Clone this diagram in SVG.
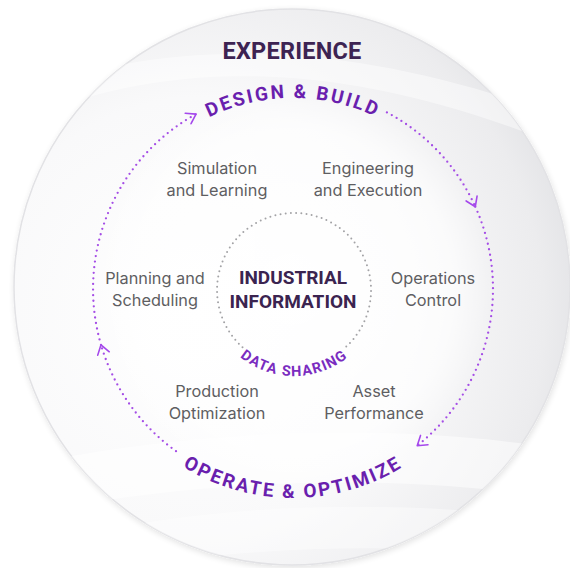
<svg xmlns="http://www.w3.org/2000/svg" width="570" height="568" viewBox="0 0 570 568">
<defs>
<radialGradient id="outerFill" cx="0.33" cy="0.55" r="0.78">
<stop offset="0" stop-color="#ffffff"/>
<stop offset="0.5" stop-color="#f9f9fa"/>
<stop offset="0.8" stop-color="#ececee"/>
<stop offset="1" stop-color="#d9dade"/>
</radialGradient>
<radialGradient id="innerGlow" cx="0.5" cy="0.5" r="0.5">
<stop offset="0" stop-color="#ffffff" stop-opacity="0.9"/>
<stop offset="0.8" stop-color="#ffffff" stop-opacity="0.6"/>
<stop offset="1" stop-color="#ffffff" stop-opacity="0"/>
</radialGradient>
<clipPath id="outerClip"><circle cx="292" cy="287" r="278"/></clipPath>
<filter id="shadow" x="-10%" y="-10%" width="120%" height="120%">
<feGaussianBlur in="SourceAlpha" stdDeviation="3"/>
<feOffset dx="1" dy="2" result="b"/>
<feComponentTransfer><feFuncA type="linear" slope="0.12"/></feComponentTransfer>
<feMerge><feMergeNode/><feMergeNode in="SourceGraphic"/></feMerge>
</filter>
<marker id="chev" viewBox="-12 -8 14 16" markerWidth="14" markerHeight="16" refX="0" refY="0" orient="auto" markerUnits="userSpaceOnUse">
<path d="M -9 -6 L 0 0 L -9 6" fill="none" stroke="#a548ec" stroke-width="1.6" stroke-linecap="round" stroke-linejoin="round"/>
</marker>
<path id="arcTop" d="M 102 289 A 191 191 0 0 1 484 289"/>
<path id="arcBottom" d="M 84 289 A 209 209 0 0 0 502 289"/>
<path id="arcInner" d="M 208 290 A 86 86 0 0 0 380 290"/>
</defs>
<style>
.lbl{font-family:Inter,Roboto,"Liberation Sans",Arial,sans-serif;font-size:16.3px;fill:#5e5e62;text-anchor:middle}
.core{font-family:Roboto,"Liberation Sans",Arial,sans-serif;font-size:19px;font-weight:bold;fill:#3b2450;text-anchor:middle}
.arcTxt{font-family:Roboto,"Liberation Sans",Arial,sans-serif;font-size:19px;font-weight:bold;fill:#6a1fae;letter-spacing:2.3px}
.dataTxt{font-family:Roboto,"Liberation Sans",Arial,sans-serif;font-size:14.5px;font-weight:bold;fill:#7a2cc0;letter-spacing:1.2px}
.dots{fill:none;stroke:#a54ee6;stroke-width:2.3;stroke-linecap:round;stroke-dasharray:0 5.6}
.gdots{fill:none;stroke:#a3a3a6;stroke-width:2;stroke-linecap:round;stroke-dasharray:0 5.2}
</style>
<rect width="570" height="568" fill="#ffffff"/>
<g id="experience-disc">
<circle cx="292" cy="287" r="278" fill="url(#outerFill)" stroke="#e2e2e5" stroke-width="1.5" filter="url(#shadow)"/>
<g clip-path="url(#outerClip)">
<path d="M 0 130 C 150 60 330 50 570 150 L 570 120 C 330 30 150 40 0 100 Z" fill="#ffffff" opacity="0.45"/>
<path d="M 0 470 C 180 430 380 420 570 450 L 570 500 C 380 470 180 480 0 520 Z" fill="#ffffff" opacity="0.5"/>
<path d="M 60 540 C 220 500 400 500 570 520 L 570 560 C 400 540 220 545 60 580 Z" fill="#ffffff" opacity="0.4"/>
</g>
<circle cx="293" cy="289" r="200" fill="url(#innerGlow)"/>
<text x="292" y="59" font-family="Roboto,'Liberation Sans',Arial,sans-serif" font-size="23.5" font-weight="bold" fill="#3d2352" text-anchor="middle" letter-spacing="0.2">EXPERIENCE</text>
</g>
<g id="connectors">
<path class="dots" d="M 386.9 112.4 A 200 200 0 0 1 475.3 206.7" marker-end="url(#chev)"/>
<path class="dots" d="M 475.3 206.7 A 200 200 0 0 1 417.2 445.7" marker-end="url(#chev)"/>
<path class="dots" d="M 176 451.2 A 200 200 0 0 1 101 344.8" marker-end="url(#chev)"/>
<path class="dots" d="M 101 344.8 A 200 200 0 0 1 196 114.1" marker-end="url(#chev)"/>
<path class="gdots" d="M 242.5 347.2 A 77 77 0 1 1 343.5 349"/>
</g>
<g id="design-build">
<text class="arcTxt"><textPath href="#arcTop" startOffset="50%" text-anchor="middle">DESIGN &amp; BUILD</textPath></text>
</g>
<g id="operate-optimize">
<text class="arcTxt"><textPath href="#arcBottom" startOffset="50%" text-anchor="middle">OPERATE &amp; OPTIMIZE</textPath></text>
</g>
<g id="industrial-information">
<text class="core" x="293" y="284">INDUSTRIAL</text>
<text class="core" x="293" y="308">INFORMATION</text>
</g>
<g id="data-sharing">
<text class="dataTxt"><textPath href="#arcInner" startOffset="50%" text-anchor="middle">DATA SHARING</textPath></text>
</g>
<g id="simulation-learning">
<text class="lbl" x="217" y="174">Simulation</text>
<text class="lbl" x="217" y="196">and Learning</text>
</g>
<g id="engineering-execution">
<text class="lbl" x="368" y="174">Engineering</text>
<text class="lbl" x="368" y="196">and Execution</text>
</g>
<g id="planning-scheduling">
<text class="lbl" x="155" y="284">Planning and</text>
<text class="lbl" x="155" y="306">Scheduling</text>
</g>
<g id="operations-control">
<text class="lbl" x="433" y="284">Operations</text>
<text class="lbl" x="433" y="306">Control</text>
</g>
<g id="production-optimization">
<text class="lbl" x="217" y="397">Production</text>
<text class="lbl" x="217" y="419">Optimization</text>
</g>
<g id="asset-performance">
<text class="lbl" x="374" y="397">Asset</text>
<text class="lbl" x="374" y="419">Performance</text>
</g>
</svg>
